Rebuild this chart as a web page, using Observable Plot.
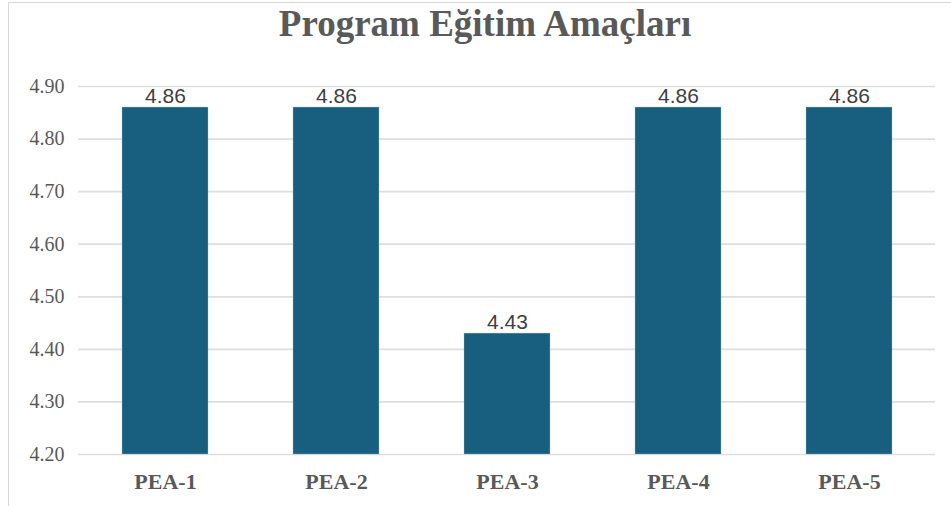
<!DOCTYPE html>
<html>
<head>
<meta charset="utf-8">
<script src="https://cdn.jsdelivr.net/npm/d3@7"></script>
<script src="https://cdn.jsdelivr.net/npm/@observablehq/plot@0.6"></script>
<style>
  body { margin: 0; background: #fff; }
  #wrap { position: relative; width: 951px; height: 506px; overflow: hidden; background: #fff; }
  #frame { position: absolute; left: 8px; top: 2px; width: 1000px; height: 600px; border: 1px solid #d9d9d9; box-sizing: border-box; }
  #title { position: absolute; left: 0; top: 5px; width: 970px; height: 40px; text-align: center;
    font-family: "Liberation Serif", "Times New Roman", serif; font-weight: bold; font-size: 37px; color: #595959; line-height: 37px; }
  #chart { position: absolute; left: 0; top: 70px; }
</style>
</head>
<body>
<div id="wrap">
  <div id="frame"></div>
  <div id="title">Program Eğitim Amaçları</div>
  <div id="chart"></div>
</div>
<script>
const categories = ["PEA-1", "PEA-2", "PEA-3", "PEA-4", "PEA-5"];
const values = [4.86, 4.86, 4.43, 4.86, 4.86];
const yTicks = [4.2, 4.3, 4.4, 4.5, 4.6, 4.7, 4.8, 4.9];

const data = categories.map((c, i) => ({ cat: c, value: values[i] }));

const serif = "Liberation Serif";
const sans = "Liberation Sans";

const chart = Plot.plot({
  width: 951,
  height: 436,
  marginLeft: 78,
  marginRight: 16,
  marginTop: 16,
  marginBottom: 52,
  style: { background: "transparent", overflow: "visible" },
  x: { domain: categories, paddingInner: 0.5, paddingOuter: 0.25, label: null, axis: null },
  y: { domain: [4.2, 4.9], label: null, axis: null },
  marks: [
    Plot.ruleY(yTicks, { stroke: "#dedede", strokeWidth: 1.7 }),
    Plot.barY(data, { x: "cat", y1: 4.2, y2: "value", fill: "#185e7f", stroke: "#9ec3d6", strokeWidth: 0.6, strokeOpacity: 0.6 }),
    Plot.text(data, { x: "cat", y: "value", text: d => d.value.toFixed(2), lineAnchor: "bottom", dy: -5,
      fontFamily: sans, fontSize: 21, fill: "#404040" }),
    Plot.text(yTicks, { y: d => d, text: d => d.toFixed(2), frameAnchor: "left", textAnchor: "end", dx: -14,
      fontFamily: serif, fontSize: 20, fill: "#595959" }),
    Plot.text(categories, { x: d => d, text: d => d, frameAnchor: "bottom", lineAnchor: "top", dy: 19,
      fontFamily: serif, fontSize: 22, fontWeight: "bold", fill: "#595959" })
  ]
});

document.getElementById("chart").appendChild(chart);
</script>
</body>
</html>
